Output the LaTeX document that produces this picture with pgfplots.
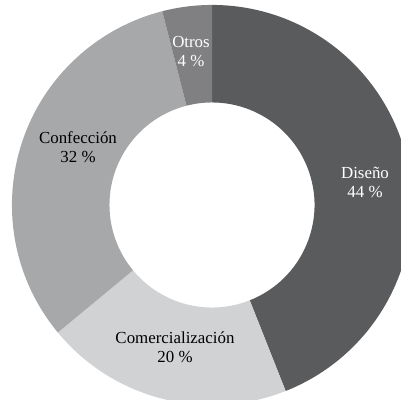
\documentclass[border=0pt]{standalone}
\usepackage{fontspec}
\setmainfont{Liberation Serif}
\usepackage{pgfplots}
\usepackage{pgfplotstable}
\pgfplotsset{compat=1.18}
\definecolor{cDis}{HTML}{5A5B5D}
\definecolor{cCom}{HTML}{D1D2D4}
\definecolor{cCon}{HTML}{A7A8AA}
\definecolor{cOtr}{HTML}{808083}
\pgfplotstableread[col sep=comma]{
name,value,fillc,textc,lx,ly
Diseño,44,cDis,white,365,218
Comercialización,20,cCom,black,175,53
Confección,32,cCon,black,78,253
Otros,4,cOtr,white,191,348
}\piedata
\begin{document}
\begin{tikzpicture}
\pgfplotstablegetrowsof{\piedata}\pgfmathtruncatemacro{\nrows}{\pgfplotsretval-1}
\xdef\cum{0}
\foreach \i in {0,...,\nrows}{
  \pgfplotstablegetelem{\i}{value}\of\piedata \edef\v{\pgfplotsretval}
  \expandafter\xdef\csname pV\i\endcsname{\v}
  \pgfmathsetmacro{\s}{90-3.6*\cum}
  \pgfmathsetmacro{\e}{90-3.6*(\cum+\v)}
  \expandafter\xdef\csname pS\i\endcsname{\s}
  \expandafter\xdef\csname pE\i\endcsname{\e}
  \pgfmathsetmacro{\nc}{\cum+\v}\xdef\cum{\nc}
  \pgfplotstablegetelem{\i}{fillc}\of\piedata \expandafter\xdef\csname pF\i\endcsname{\pgfplotsretval}
  \pgfplotstablegetelem{\i}{textc}\of\piedata \expandafter\xdef\csname pT\i\endcsname{\pgfplotsretval}
  \pgfplotstablegetelem{\i}{name}\of\piedata \expandafter\xdef\csname pN\i\endcsname{\pgfplotsretval}
  \pgfplotstablegetelem{\i}{lx}\of\piedata \expandafter\xdef\csname pX\i\endcsname{\pgfplotsretval}
  \pgfplotstablegetelem{\i}{ly}\of\piedata \expandafter\xdef\csname pY\i\endcsname{\pgfplotsretval}
}
\begin{axis}[hide axis, scale only axis, x=0.025cm, y=0.025cm,
  xmin=0, xmax=401, ymin=0, ymax=400, clip=true]
\addplot[draw=none] coordinates {(0,0) (401,400)};
\pgfplotsinvokeforeach{0,...,3}{
  \fill[fill=\csname pF#1\endcsname, shift={(axis cs:212,195)}]
    (\csname pS#1\endcsname:5cm)
    arc[start angle=\csname pS#1\endcsname, end angle=\csname pE#1\endcsname, radius=5cm]
    -- (\csname pE#1\endcsname:2.5625cm)
    arc[start angle=\csname pE#1\endcsname, end angle=\csname pS#1\endcsname, radius=2.5625cm]
    -- cycle;
  \node[text=\csname pT#1\endcsname, align=center, font=\fontsize{12}{13.5}\selectfont]
    at (axis cs:\csname pX#1\endcsname,\csname pY#1\endcsname)
    {\csname pN#1\endcsname\\\csname pV#1\endcsname~\%};
}
\end{axis}
\pgfresetboundingbox
\path[use as bounding box] (current axis.south west) rectangle (current axis.north east);
\end{tikzpicture}
\end{document}
